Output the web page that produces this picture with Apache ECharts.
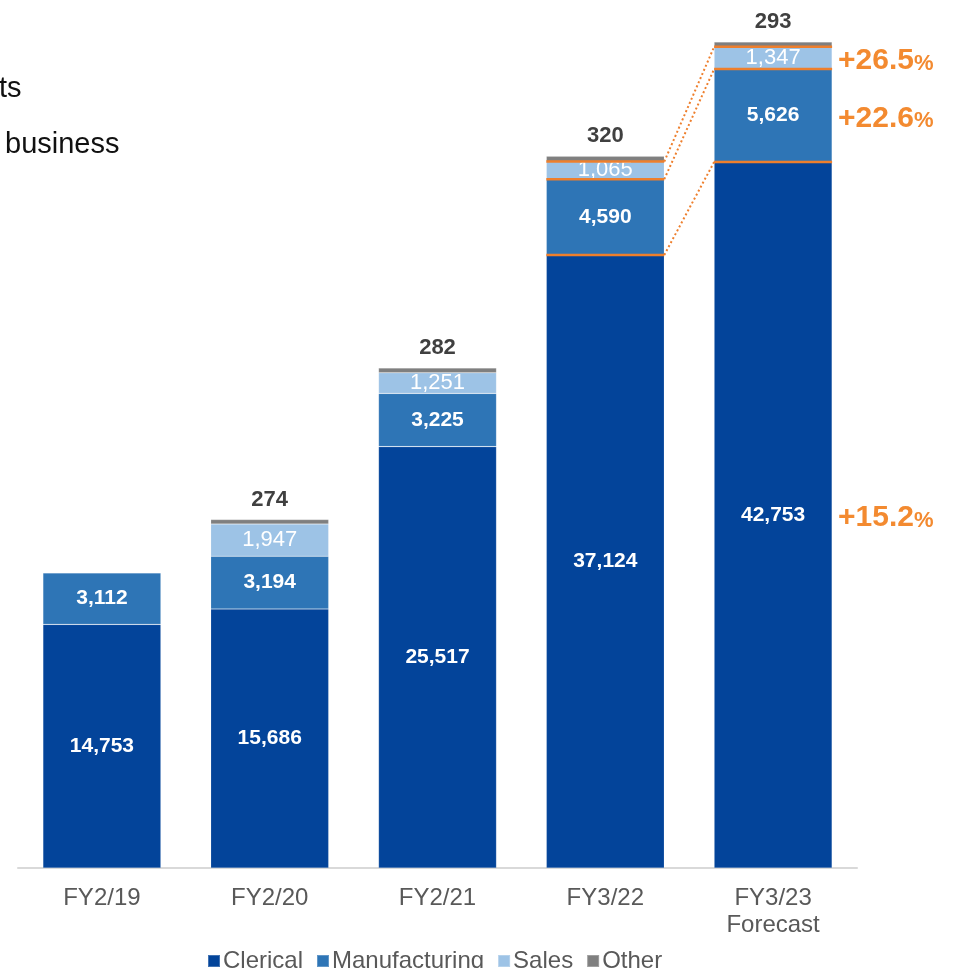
<!DOCTYPE html>
<html>
<head>
<meta charset="utf-8">
<style>
  html, body { margin: 0; padding: 0; background: #ffffff; }
  #chart { width: 957px; height: 968px; }
</style>
<script src="https://cdn.jsdelivr.net/npm/echarts@6/dist/echarts.min.js"></script>
</head>
<body>
<div id="chart"></div>
<script>
// Headcount by job type, FY2/19 – FY3/23 forecast
const categories = ['FY2/19', 'FY2/20', 'FY2/21', 'FY3/22', 'FY3/23\nForecast'];
const clerical = [14753, 15686, 25517, 37124, 42753];
const manufacturing = [3112, 3194, 3225, 4590, 5626];
const sales = [null, 1947, 1251, 1065, 1347];
const other = [null, 274, 282, 320, 293];
const seriesNames = ['Clerical', 'Manufacturing', 'Sales', 'Other'];

const FONT = '"Liberation Sans", Arial, sans-serif';
const BAR_WIDTH = 118;
const ORANGE = '#EE7F2D';
const ORANGE_TEXT = '#F38A30';
const COLORS = { clerical: '#03449A', manufacturing: '#2E75B6', sales: '#9DC3E6', other: '#7F7F7F' };

// Year-on-year comparison between the last actual year and the forecast year
const PREV = 3, CUR = 4;
const segs = [clerical, manufacturing, sales];
const boundaryData = [];
const growthData = [];
let cumPrev = 0, cumCur = 0;
segs.forEach(function (s) {
  const lowCur = cumCur;
  cumPrev += s[PREV];
  cumCur += s[CUR];
  boundaryData.push([PREV, cumPrev, cumCur]);
  growthData.push([CUR, (lowCur + cumCur) / 2, s[PREV], s[CUR]]);
});

const fmt = function (p) { return p.value == null ? '' : Number(p.value).toLocaleString('en-US'); };

function barSeries(name, data, color, label) {
  return {
    name: name,
    type: 'bar',
    stack: 'total',
    barWidth: BAR_WIDTH,
    data: data,
    itemStyle: { color: color, borderColor: 'rgba(255,255,255,0.25)', borderWidth: 0.6 },
    label: Object.assign({ show: true, formatter: fmt, fontFamily: FONT }, label),
    emphasis: { disabled: true }
  };
}

const chart = echarts.init(document.getElementById('chart'), null, { renderer: 'canvas' });

chart.setOption({
  animation: false,
  backgroundColor: '#ffffff',
  textStyle: { fontFamily: FONT },
  grid: { left: 18, right: 100, top: 9.3, bottom: 100, containLabel: false },
  legend: {
    data: seriesNames,
    left: 202,
    top: 944,
    icon: 'rect',
    itemWidth: 12,
    itemHeight: 12,
    itemGap: 13,
    textStyle: { fontFamily: FONT, fontSize: 24, color: '#595959', padding: [0, 0, 0, -2] },
    selectedMode: false
  },
  xAxis: {
    type: 'category',
    data: categories,
    axisLine: { show: true, lineStyle: { color: '#D9D9D9', width: 2 } },
    axisTick: { show: false },
    splitLine: { show: false },
    axisLabel: { color: '#595959', fontSize: 24, fontFamily: FONT, margin: 17, lineHeight: 27 }
  },
  yAxis: {
    type: 'value',
    min: 0,
    max: 52000,
    show: false,
    splitLine: { show: false }
  },
  series: [
    barSeries('Clerical', clerical, COLORS.clerical,
      { position: 'inside', color: '#ffffff', fontWeight: 'bold', fontSize: 21 }),
    barSeries('Manufacturing', manufacturing, COLORS.manufacturing,
      { position: 'inside', color: '#ffffff', fontWeight: 'bold', fontSize: 21 }),
    barSeries('Sales', sales, COLORS.sales,
      { position: 'inside', color: '#ffffff', fontWeight: 'normal', fontSize: 22 }),
    barSeries('Other', other, COLORS.other,
      { position: 'top', distance: 9, color: '#404040', fontWeight: 'bold', fontSize: 22 }),
    {
      // orange segment boundaries and dotted connectors between the two years
      name: 'boundaries',
      type: 'custom',
      z: 10,
      silent: true,
      encode: { x: 0, y: 1 },
      data: boundaryData,
      renderItem: function (params, api) {
        const a = api.coord([api.value(0), api.value(1)]);
        const b = api.coord([api.value(0) + 1, api.value(2)]);
        const hw = BAR_WIDTH / 2;
        const solid = { stroke: ORANGE, lineWidth: 2.5 };
        return {
          type: 'group',
          children: [
            { type: 'line', shape: { x1: a[0] - hw, y1: a[1], x2: a[0] + hw, y2: a[1] }, style: solid },
            { type: 'line', shape: { x1: b[0] - hw, y1: b[1], x2: b[0] + hw, y2: b[1] }, style: solid },
            { type: 'line', shape: { x1: a[0] + hw, y1: a[1], x2: b[0] - hw, y2: b[1] },
              style: { stroke: ORANGE, lineWidth: 2, lineDash: [2, 2.5] } }
          ]
        };
      }
    },
    {
      // growth rate of each segment next to the forecast bar
      name: 'growth',
      type: 'custom',
      z: 10,
      silent: true,
      encode: { x: 0, y: 1 },
      data: growthData,
      renderItem: function (params, api) {
        const p = api.coord([api.value(0), api.value(1)]);
        const pct = (api.value(3) / api.value(2) - 1) * 100;
        return {
          type: 'text',
          x: p[0] + BAR_WIDTH / 2 + 6,
          y: p[1] + 3,
          style: {
            text: '{n|+' + pct.toFixed(1) + '}{u|%}',
            align: 'left',
            verticalAlign: 'middle',
            rich: {
              n: { fontFamily: FONT, fontSize: 30, fontWeight: 'bold', fill: ORANGE_TEXT },
              u: { fontFamily: FONT, fontSize: 22, fontWeight: 'bold', fill: ORANGE_TEXT, padding: [5, 0, 0, 0] }
            }
          }
        };
      }
    }
  ],
  graphic: [
    { type: 'text', left: -1, top: 74, style: { text: 'ts', fontFamily: FONT, fontSize: 29, fill: '#111111' } },
    { type: 'text', left: 5, top: 130, style: { text: 'business', fontFamily: FONT, fontSize: 29, fill: '#111111' } }
  ]
});
</script>
</body>
</html>
